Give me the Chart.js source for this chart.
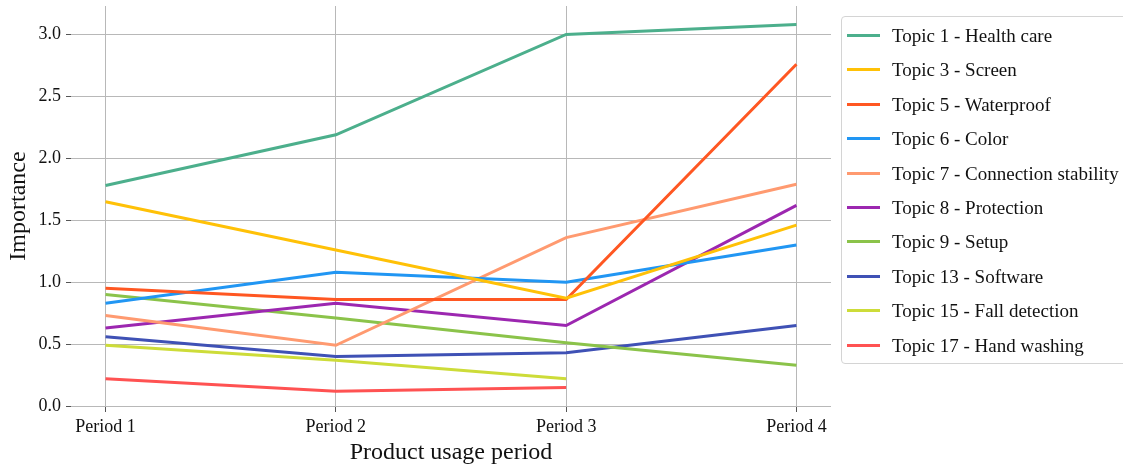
<!DOCTYPE html>
<html>
<head>
<meta charset="utf-8">
<script src="https://cdn.jsdelivr.net/npm/chart.js@4.4.1/dist/chart.umd.min.js"></script>
<style>
  html, body { margin: 0; padding: 0; background: #fff; }
  #wrap { position: relative; width: 1123px; height: 467px; overflow: hidden; }
  #c { position: absolute; left: 0; top: 0; }
  #legend {
    position: absolute; left: 841px; top: 16px; width: 300px; height: 348px;
    border: 1px solid #d4d4d4; border-radius: 4px; box-sizing: border-box;
    font-family: "Liberation Serif", "Times New Roman", serif; font-size: 19px; color: #111;
  }
  .item { position: absolute; left: 0; height: 24px; width: 100%; }
  .sw { position: absolute; left: 5px; top: 10px; width: 33px; height: 3px; }
  .lab { position: absolute; left: 50px; top: 0; line-height: 24px; white-space: nowrap; }
</style>
</head>
<body>
<div id="wrap">
  <canvas id="c" width="1123" height="467"></canvas>
  <div id="legend"></div>
</div>
<script>
const categories = ["Period 1", "Period 2", "Period 3", "Period 4"];
const topicLabels = [
  "Topic 1 - Health care", "Topic 3 - Screen", "Topic 5 - Waterproof", "Topic 6 - Color",
  "Topic 7 - Connection stability", "Topic 8 - Protection", "Topic 9 - Setup",
  "Topic 13 - Software", "Topic 15 - Fall detection", "Topic 17 - Hand washing"
];
const topic1  = [1.78, 2.19, 3.00, 3.08];
const topic3  = [1.65, 1.26, 0.87, 1.46];
const topic5  = [0.95, 0.86, 0.86, 2.76];
const topic6  = [0.83, 1.08, 1.00, 1.30];
const topic7  = [0.73, 0.49, 1.36, 1.79];
const topic8  = [0.63, 0.83, 0.65, 1.62];
const topic9  = [0.90, 0.71, 0.51, 0.33];
const topic13 = [0.56, 0.40, 0.43, 0.65];
const topic15 = [0.49, 0.37, 0.22, null];
const topic17 = [0.22, 0.12, 0.15, null];
const yTicks  = [0.0, 0.5, 1.0, 1.5, 2.0, 2.5, 3.0];

const seriesValues = [topic1, topic3, topic5, topic6, topic7, topic8, topic9, topic13, topic15, topic17];
const colors = ["#4caf8c", "#ffc107", "#ff5722", "#2196f3", "#ff9a70",
                "#9c27b0", "#8bc34a", "#3f51b5", "#cddc39", "#ff5252"];

const datasets = topicLabels.map((lab, i) => ({
  label: lab,
  data: seriesValues[i].map((v, j) => ({ x: j, y: v })),
  borderColor: colors[i],
  backgroundColor: colors[i],
  borderWidth: 3,
  pointRadius: 0,
  tension: 0,
  spanGaps: false
}));

const FONT = "'Liberation Serif', 'Times New Roman', serif";
const gridColor = "#b8b8b8";

new Chart(document.getElementById("c"), {
  type: "line",
  data: { datasets },
  options: {
    responsive: false,
    animation: false,
    layout: { padding: { top: 6, right: 292, left: 0, bottom: 0 } },
    plugins: { legend: { display: false }, tooltip: { enabled: false } },
    scales: {
      x: {
        type: "linear",
        min: -0.15, max: 3.15,
        afterBuildTicks: (s) => { s.ticks = categories.map((c, i) => ({ value: i })); },
        afterFit: (s) => { s.height = 61; },
        ticks: {
          callback: (v) => categories[v],
          font: { family: FONT, size: 18 }, color: "#111", padding: 4, maxRotation: 0, autoSkip: false
        },
        grid: { color: gridColor, lineWidth: 1, tickLength: 6, tickColor: "#555", tickWidth: 1 },
        border: { display: false },
        title: { display: true, text: "Product usage period", font: { family: FONT, size: 24 }, color: "#111", padding: 0 }
      },
      y: {
        min: 0, max: 3.23,
        afterBuildTicks: (s) => { s.ticks = yTicks.map(v => ({ value: v })); },
        afterFit: (s) => { s.width = 71; s.paddingTop = 0; s.paddingBottom = 0; },
        ticks: {
          callback: (v) => v.toFixed(1),
          font: { family: FONT, size: 18 }, color: "#111", padding: 5
        },
        grid: { color: gridColor, lineWidth: 1, tickLength: 5, tickColor: "#555", tickWidth: 1 },
        border: { display: false },
        title: { display: true, text: "Importance", font: { family: FONT, size: 24 }, color: "#111", padding: 4 }
      }
    }
  }
});

const lg = document.getElementById("legend");
topicLabels.forEach((lab, i) => {
  const it = document.createElement("div");
  it.className = "item";
  it.style.top = (7 + i * 34.4) + "px";
  const sw = document.createElement("div");
  sw.className = "sw";
  sw.style.background = colors[i];
  const t = document.createElement("div");
  t.className = "lab";
  t.textContent = lab;
  it.appendChild(sw); it.appendChild(t);
  lg.appendChild(it);
});
</script>
</body>
</html>
